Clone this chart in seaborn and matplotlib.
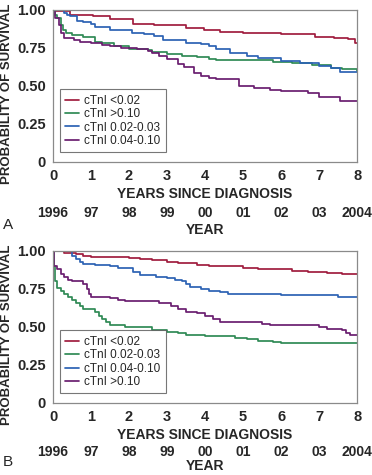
import numpy as np
import pandas as pd
import matplotlib
matplotlib.use("Agg")
import matplotlib.pyplot as plt
import seaborn as sns

# Kaplan-Meier curves (step times in years, survival)
# Panel A
a_lt002_t = [0, 0.05, 0.45, 1.05, 1.5, 2.1, 2.65, 3.5, 3.96, 4.4, 5.0, 6.0, 6.9, 7.4, 7.75, 7.95, 8.0]
a_lt002_s = [1.0, 0.99, 0.97, 0.96, 0.94, 0.91, 0.90, 0.88, 0.865, 0.853, 0.847, 0.84, 0.825, 0.814, 0.807, 0.786, 0.786]
a_gt010_t = [0, 0.05, 0.1, 0.2, 0.25, 0.35, 0.5, 0.8, 1.1, 1.3, 1.6, 2.0, 2.5, 2.6, 3.0, 3.4, 3.8, 4.1, 4.3,
             5.8, 6.3, 6.8, 7.0, 7.3, 7.6, 8.0]
a_gt010_s = [1.0, 0.97, 0.95, 0.90, 0.87, 0.85, 0.835, 0.82, 0.79, 0.78, 0.76, 0.745, 0.735, 0.725, 0.71, 0.70,
             0.69, 0.68, 0.67, 0.66, 0.65, 0.64, 0.635, 0.62, 0.61, 0.60]
a_0203_t = [0, 0.3, 0.36, 0.45, 0.62, 0.8, 1.0, 1.1, 1.5, 2.07, 2.4, 2.65, 2.9, 3.5, 3.9, 4.1, 4.3, 4.65,
            5.1, 5.4, 6.0, 6.5, 7.0, 7.3, 7.55, 8.0]
a_0203_s = [1.0, 0.98, 0.97, 0.96, 0.93, 0.92, 0.91, 0.89, 0.87, 0.85, 0.84, 0.83, 0.805, 0.785, 0.775, 0.76,
            0.74, 0.715, 0.695, 0.685, 0.665, 0.65, 0.63, 0.62, 0.595, 0.59]
a_0410_t = [0, 0.05, 0.15, 0.2, 0.3, 0.55, 0.7, 1.0, 1.3, 1.5, 1.8, 2.2, 2.5, 2.6, 2.8, 3.0, 3.3, 3.45, 3.7,
            3.9, 4.1, 4.3, 4.9, 5.3, 5.7, 6.0, 6.7, 7.0, 7.55, 8.0]
a_0410_s = [1.0, 0.95, 0.90, 0.85, 0.815, 0.80, 0.79, 0.78, 0.77, 0.76, 0.75, 0.74, 0.73, 0.72, 0.70, 0.675,
            0.645, 0.625, 0.585, 0.565, 0.555, 0.545, 0.497, 0.486, 0.475, 0.468, 0.453, 0.425, 0.40, 0.40]

# Panel B
b_lt002_t = [0, 0.3, 0.6, 0.8, 1.0, 2.0, 2.3, 2.6, 3.0, 3.3, 3.8, 4.1, 5.0, 5.4, 6.3, 6.7, 7.2, 7.6, 8.0]
b_lt002_s = [1.0, 0.99, 0.98, 0.97, 0.96, 0.955, 0.95, 0.94, 0.93, 0.92, 0.91, 0.90, 0.89, 0.88, 0.87, 0.86,
             0.855, 0.847, 0.847]
b_0203_t = [0, 0.02, 0.05, 0.1, 0.2, 0.3, 0.4, 0.5, 0.6, 0.7, 0.8, 1.1, 1.2, 1.3, 1.4, 1.5, 1.9, 2.6, 3.0,
            3.3, 3.5, 4.0, 4.8, 5.1, 5.4, 5.8, 6.0, 8.0]
b_0203_s = [1.0, 0.90, 0.80, 0.755, 0.74, 0.72, 0.70, 0.68, 0.66, 0.64, 0.62, 0.60, 0.57, 0.55, 0.53, 0.51,
            0.50, 0.48, 0.47, 0.46, 0.45, 0.44, 0.43, 0.42, 0.41, 0.40, 0.395, 0.395]
b_0410_t = [0, 0.5, 0.6, 0.7, 0.8, 1.1, 1.5, 1.7, 2.1, 2.3, 2.7, 3.0, 3.2, 3.4, 3.5, 3.6, 3.9, 4.1, 4.4,
            4.6, 5.5, 6.0, 7.5, 8.0]
b_0410_s = [1.0, 0.97, 0.95, 0.925, 0.915, 0.91, 0.90, 0.885, 0.86, 0.84, 0.83, 0.82, 0.81, 0.80, 0.78,
            0.765, 0.75, 0.74, 0.73, 0.72, 0.715, 0.708, 0.70, 0.70]
b_gt010_t = [0, 0.03, 0.1, 0.2, 0.3, 0.4, 0.5, 0.8, 0.9, 0.95, 1.0, 1.5, 1.7, 1.9, 2.8, 3.1, 3.3, 3.5, 3.8,
             4.0, 4.2, 4.4, 5.5, 5.7, 7.0, 7.2, 7.6, 7.7, 7.8, 8.0]
b_gt010_s = [1.0, 0.90, 0.88, 0.85, 0.83, 0.81, 0.80, 0.78, 0.75, 0.72, 0.70, 0.69, 0.68, 0.67, 0.655, 0.64,
             0.62, 0.60, 0.59, 0.575, 0.55, 0.53, 0.522, 0.512, 0.50, 0.49, 0.48, 0.46, 0.45, 0.445]

year_ticks = [0, 1, 2, 3, 4, 5, 6, 7, 8]
year_labels = ["1996", "97", "98", "99", "00", "01", "02", "03", "2004"]
y_ticks = [0, 0.25, 0.5, 0.75, 1.0]
y_labels = ["0", "0.25", "0.50", "0.75", "1.00"]

c_red = "#a01c3e"
c_green = "#2f8a55"
c_blue = "#2c62b4"
c_purple = "#6a1e70"

panel_a = [("cTnI <0.02", a_lt002_t, a_lt002_s, c_red),
           ("cTnI >0.10", a_gt010_t, a_gt010_s, c_green),
           ("cTnI 0.02-0.03", a_0203_t, a_0203_s, c_blue),
           ("cTnI 0.04-0.10", a_0410_t, a_0410_s, c_purple)]
panel_b = [("cTnI <0.02", b_lt002_t, b_lt002_s, c_red),
           ("cTnI 0.02-0.03", b_0203_t, b_0203_s, c_green),
           ("cTnI 0.04-0.10", b_0410_t, b_0410_s, c_blue),
           ("cTnI >0.10", b_gt010_t, b_gt010_s, c_purple)]

sns.set_style("white")
plt.rcParams['font.family'] = ['Liberation Sans', 'DejaVu Sans']

fig = plt.figure(figsize=(3.72, 4.75), dpi=100)
ax_a = fig.add_axes([0.1425, 0.659, 0.8175, 0.32])
ax_b = fig.add_axes([0.1425, 0.1516, 0.8175, 0.32])

gray = "#8a8a8a"


def draw_panel(ax, groups, letter, letter_y, year_off, year_pad):
    frames = []
    for name, t, s, _ in groups:
        frames.append(pd.DataFrame({"t": t, "s": s, "group": name}))
    df = pd.concat(frames, ignore_index=True)
    pal = {name: col for name, _, _, col in groups}
    order = [g[0] for g in groups]
    sns.lineplot(data=df, x="t", y="s", hue="group", hue_order=order, palette=pal,
                 estimator=None, sort=False, drawstyle="steps-post", linewidth=1.25, ax=ax)
    ax.set_xlim(0, 8)
    ax.set_ylim(0, 1)
    ax.set_xticks(year_ticks)
    ax.set_xticklabels([str(v) for v in year_ticks], fontsize=10.5, fontweight="bold")
    ax.set_yticks(y_ticks)
    ax.set_yticklabels(y_labels, fontsize=10.5, fontweight="bold")
    ax.tick_params(axis="both", direction="out", length=4, width=0.8, color=gray, pad=1)
    for sp in ax.spines.values():
        sp.set_color(gray)
        sp.set_linewidth(0.9)
    ax.set_xlabel("YEARS SINCE DIAGNOSIS", fontsize=10, fontweight="bold", labelpad=3)
    ax.set_ylabel("PROBABILITY OF SURVIVAL", fontsize=9.5, fontweight="bold")
    ax.yaxis.set_label_coords(-0.132, 0.45)
    leg = ax.legend(loc="lower left", bbox_to_anchor=(0.01, 0.04), fontsize=8.5, frameon=True,
                    fancybox=False, handlelength=1.2, handletextpad=0.45, labelspacing=0.12,
                    borderpad=0.45, borderaxespad=0.3)
    leg.get_frame().set_edgecolor("#555555")
    leg.get_frame().set_linewidth(0.8)
    sec = ax.secondary_xaxis(year_off)
    sec.set_xticks(year_ticks)
    sec.set_xticklabels(year_labels, fontsize=10, fontweight="bold")
    sec.tick_params(length=0, pad=0)
    sec.spines["bottom"].set_visible(False)
    sec.set_xlabel("YEAR", fontsize=10, fontweight="bold", labelpad=year_pad)
    ax.text(-0.165, letter_y, letter, transform=ax.transAxes, fontsize=11, ha="left", va="center")


draw_panel(ax_a, panel_a, "A", -0.415, -0.29, 2)
draw_panel(ax_b, panel_b, "B", -0.385, -0.275, 0)

fig.savefig("out.png", dpi=100)
